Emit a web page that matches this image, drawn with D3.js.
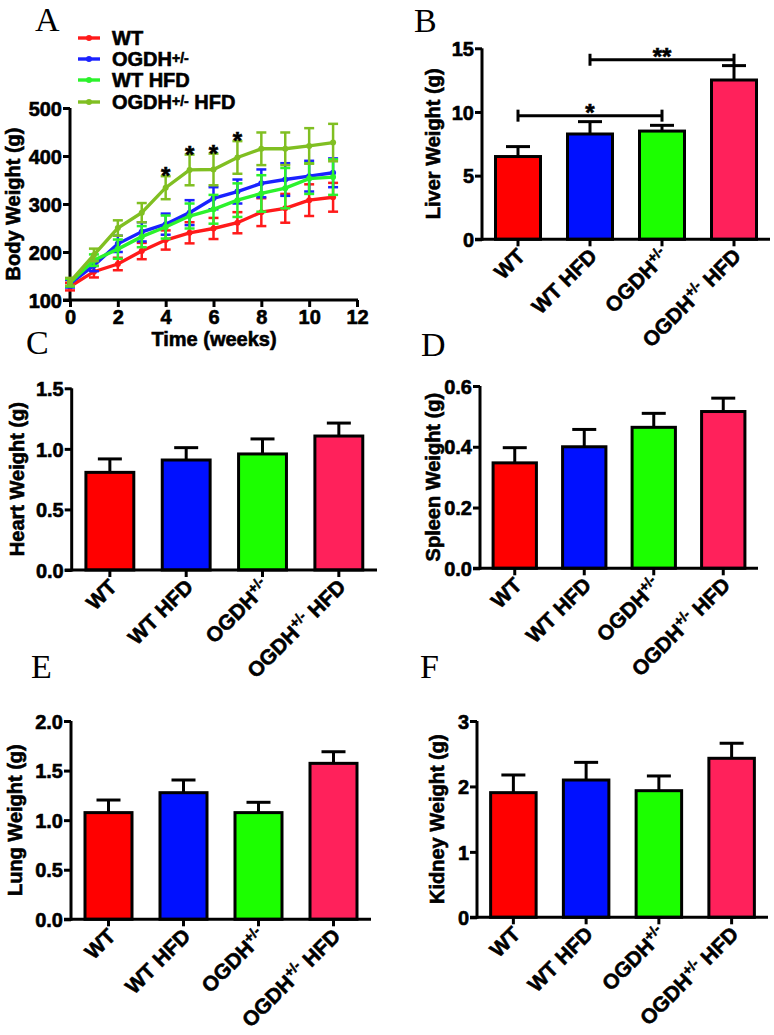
<!DOCTYPE html>
<html><head><meta charset="utf-8">
<script src="https://cdn.jsdelivr.net/npm/d3@7"></script>
<style>
html,body{margin:0;padding:0;background:#fff;}
svg{display:block;}
text{font-family:"Liberation Sans",Arial,sans-serif;font-weight:bold;fill:#000;stroke:#000;stroke-width:0.6px;}
.letter{font-family:"Liberation Serif","Times New Roman",serif;font-weight:normal;font-size:34px;stroke:none;}
</style></head>
<body>
<script>
// ---------- Data ----------
const weeks = [0,1,2,3,4,5,6,7,8,9,10,11];
const lineGroups = ["WT","OGDH+/-","WT HFD","OGDH+/- HFD"];
const bwWT       = [128,159,175,202,225,240,249,261,283,291,308,314];
const bwWTerr    = [8,12,13,17,20,22,22,22,29,30,33,30];
const bwOGDH     = [134,172,217,242,258,282,312,326,343,351,358,365];
const bwOGDHerr  = [8,12,17,20,22,26,23,25,29,34,32,30];
const bwWTHFD    = [136,183,206,232,252,275,289,308,322,333,353,356];
const bwWTHFDerr = [8,12,20,22,24,26,30,35,38,42,32,37];
const bwOHFD     = [138,194,250,282,334,371,372,397,415,415,421,428];
const bwOHFDerr  = [8,13,16,20,24,32,33,34,34,34,37,39];
const starWeeks  = [4,5,6,7];
const bwTicksY = [100,200,300,400,500];
const bwTicksX = [0,2,4,6,8,10,12];

const barCats = ["WT","WT HFD","OGDH+/-","OGDH+/- HFD"];
const liver     = [6.5,8.27,8.5,12.51];
const liverErr  = [0.78,0.97,0.45,1.13];
const liverSig  = [{from:"WT",to:"OGDH+/-",level:9.71,label:"*"},{from:"WT HFD",to:"OGDH+/- HFD",level:14.1,label:"**"}];
const heart     = [0.806,0.908,0.958,1.106];
const heartErr  = [0.111,0.102,0.124,0.107];
const spleen    = [0.347,0.400,0.464,0.516];
const spleenErr = [0.050,0.057,0.046,0.044];
const lung      = [1.076,1.277,1.076,1.573];
const lungErr   = [0.127,0.128,0.104,0.117];
const kidney    = [1.905,2.098,1.935,2.43];
const kidneyErr = [0.27,0.27,0.225,0.23];
const liverTicks  = [0,5,10,15];
const heartTicks  = [0,0.5,1.0,1.5];
const spleenTicks = [0,0.2,0.4,0.6];
const lungTicks   = [0,0.5,1.0,1.5,2.0];
const kidneyTicks = [0,1,2,3];

// ---------- Styles ----------
const lineColors = ["#ff1a1a","#1a22ff","#2cf22c","#80bf22"];
const barColors  = ["#ff0000","#0010ff","#1cff00","#ff215b"];
const FS = 20, FSX = 21, FSL = 20;

const svg = d3.select("body").append("svg").attr("width",774).attr("height",1035);
svg.append("rect").attr("width",774).attr("height",1035).attr("fill","#fff");

function richText(sel, label, size, shift){
  const parts = label.split("+/-");
  sel.append("tspan").text(parts[0]);
  if(parts.length>1){
    sel.append("tspan").attr("baseline-shift",shift || "super").attr("font-size",Math.round(size*0.68)+"px").text("+/-");
    if(parts[1]) sel.append("tspan").text(parts[1]);
  }
}
function styleTicks(ax){
  ax.select(".domain").remove();
  ax.selectAll(".tick line").attr("stroke","#000").attr("stroke-width",3);
  ax.selectAll(".tick text").attr("font-size",FS+"px").attr("font-family","Liberation Sans, Arial, sans-serif").attr("font-weight","bold").attr("stroke","#000").attr("stroke-width",0.6);
}

function drawAxes(g, x0, x1, y, ticksY, fmt, yLabel, yLabelX){
  const yAxis = g.append("g").attr("transform",`translate(${x0},0)`)
    .call(d3.axisLeft(y).tickValues(ticksY).tickFormat(fmt).tickSize(7).tickPadding(1));
  styleTicks(yAxis);
  yAxis.selectAll(".tick text").attr("dy","0.36em");
  const [yb, yt] = y.range();
  g.append("line").attr("x1",x0).attr("x2",x0).attr("y1",yb+1.5).attr("y2",yt).attr("stroke","#000").attr("stroke-width",3);
  g.append("line").attr("x1",x0-7).attr("x2",x1).attr("y1",yb).attr("y2",yb).attr("stroke","#000").attr("stroke-width",3);
  g.append("text").attr("transform",`translate(${yLabelX},${(yb+yt)/2}) rotate(-90)`)
    .attr("text-anchor","middle").attr("dominant-baseline","central").attr("font-size",FS+"px").text(yLabel);
}

// ---------- Panel A ----------
(function(){
  const x = d3.scaleLinear().domain([0,12]).range([70,357]);
  const y = d3.scaleLinear().domain([100,500]).range([300,108]);
  const g = svg.append("g");
  const ya = g.append("g").attr("transform","translate(70,0)")
    .call(d3.axisLeft(y).tickValues(bwTicksY).tickSize(7).tickPadding(1));
  styleTicks(ya);
  ya.selectAll(".tick text").attr("dy","0.36em");
  const xa = g.append("g").attr("transform","translate(0,300)")
    .call(d3.axisBottom(x).tickValues(bwTicksX).tickSize(7).tickPadding(3));
  styleTicks(xa);
  xa.selectAll(".tick text").attr("dy","0.72em");
  g.append("line").attr("x1",70).attr("x2",70).attr("y1",301.5).attr("y2",108).attr("stroke","#000").attr("stroke-width",3);
  g.append("line").attr("x1",63).attr("x2",358).attr("y1",300).attr("y2",300).attr("stroke","#000").attr("stroke-width",3);
  g.append("text").attr("transform",`translate(13,${(300+108)/2}) rotate(-90)`)
    .attr("text-anchor","middle").attr("dominant-baseline","central").attr("font-size",FS+"px").text("Body Weight (g)");
  g.append("text").attr("x",214).attr("y",346).attr("text-anchor","middle").attr("font-size",FS+"px").text("Time (weeks)");

  const series = [
    {name:lineGroups[0], v:bwWT, e:bwWTerr, c:lineColors[0]},
    {name:lineGroups[1], v:bwOGDH, e:bwOGDHerr, c:lineColors[1]},
    {name:lineGroups[2], v:bwWTHFD, e:bwWTHFDerr, c:lineColors[2]},
    {name:lineGroups[3], v:bwOHFD, e:bwOHFDerr, c:lineColors[3]}
  ];
  const line = d3.line().x((d,i)=>x(weeks[i])).y(d=>y(d));
  series.forEach(s=>{
    const sg = g.append("g");
    weeks.forEach((w,i)=>{
      const cx = x(w), yu = y(s.v[i]+s.e[i]), yl = y(s.v[i]-s.e[i]);
      sg.append("line").attr("x1",cx).attr("x2",cx).attr("y1",yu).attr("y2",yl).attr("stroke",s.c).attr("stroke-width",2.5);
      [yu,yl].forEach(yy=>sg.append("line").attr("x1",cx-5).attr("x2",cx+5).attr("y1",yy).attr("y2",yy).attr("stroke",s.c).attr("stroke-width",2.5));
    });
    sg.append("path").attr("d",line(s.v)).attr("fill","none").attr("stroke",s.c).attr("stroke-width",3.4);
    weeks.forEach((w,i)=>sg.append("circle").attr("cx",x(w)).attr("cy",y(s.v[i])).attr("r",3).attr("fill",s.c));
  });
  starWeeks.forEach(w=>{
    const i = weeks.indexOf(w);
    g.append("text").attr("x",x(w)).attr("y",y(bwOHFD[i]+bwOHFDerr[i])+8).attr("text-anchor","middle").attr("font-size","24px").text("*");
  });
  const lg = g.append("g");
  const legY = [45,66,87,109];
  lineGroups.forEach((name,i)=>{
    const cy = legY[i]-7;
    lg.append("line").attr("x1",78).attr("x2",100).attr("y1",cy).attr("y2",cy).attr("stroke",lineColors[i]).attr("stroke-width",3.4);
    lg.append("circle").attr("cx",89).attr("cy",cy).attr("r",3).attr("fill",lineColors[i]);
    const t = lg.append("text").attr("x",112).attr("y",legY[i]).attr("font-size",FSL+"px");
    richText(t,name,FSL,"25%");
  });
})();

// ---------- Bar panels ----------
function barPanel(o){
  const x = d3.scaleBand().domain(barCats).range([o.x0,o.x1]).paddingInner(1/3).paddingOuter(1/6);
  const y = d3.scaleLinear().domain([0,o.max]).range([o.yb,o.yt]);
  const g = svg.append("g");
  barCats.forEach((c,i)=>{
    const cx = x(c)+x.bandwidth()/2;
    const yu = y(o.vals[i]+o.errs[i]);
    g.append("line").attr("x1",cx).attr("x2",cx).attr("y1",y(o.vals[i])).attr("y2",yu).attr("stroke","#000").attr("stroke-width",3);
    g.append("line").attr("x1",cx-12).attr("x2",cx+12).attr("y1",yu).attr("y2",yu).attr("stroke","#000").attr("stroke-width",3);
  });
  g.selectAll("rect.bar").data(o.vals).enter().append("rect")
    .attr("x",(d,i)=>x(barCats[i])+1.5).attr("width",x.bandwidth()-3)
    .attr("y",d=>y(d)).attr("height",d=>o.yb-y(d))
    .attr("fill",(d,i)=>barColors[i]).attr("stroke","#000").attr("stroke-width",3);
  drawAxes(g,o.x0,o.x1,y,o.ticks,o.fmt,o.label,o.labelX);
  barCats.forEach((c,i)=>{
    const cx = x(c)+x.bandwidth()/2;
    g.append("line").attr("x1",cx).attr("x2",cx).attr("y1",o.yb).attr("y2",o.yb+7).attr("stroke","#000").attr("stroke-width",3);
    const t = g.append("text").attr("transform",`translate(${cx+3},${o.yb+13}) rotate(-45)`)
      .attr("text-anchor","end").attr("dy","0.35em").attr("font-size",FSX+"px");
    richText(t,c,FSX);
  });
  if(o.sig){
    o.sig.forEach(s=>{
      const xa = x(s.from)+x.bandwidth()/2, xb = x(s.to)+x.bandwidth()/2, yy = y(s.level);
      g.append("line").attr("x1",xa).attr("x2",xb).attr("y1",yy).attr("y2",yy).attr("stroke","#000").attr("stroke-width",3);
      [xa,xb].forEach(xx=>g.append("line").attr("x1",xx).attr("x2",xx).attr("y1",yy-6).attr("y2",yy+6).attr("stroke","#000").attr("stroke-width",3));
      g.append("text").attr("x",(xa+xb)/2).attr("y",yy+5).attr("text-anchor","middle").attr("font-size","24px").text(s.label);
    });
  }
  g.append("text").attr("class","letter").attr("x",o.lx).attr("y",o.ly).text(o.letter);
}
const f0 = d3.format("d"), f1 = d3.format(".1f");
barPanel({x0:482,x1:770,yb:239.3,yt:48.3,max:15,vals:liver,errs:liverErr,ticks:liverTicks,fmt:f0,label:"Liver Weight (g)",labelX:433,sig:liverSig,letter:"B",lx:414,ly:32});
barPanel({x0:71.7,x1:377,yb:570,yt:388.3,max:1.5,vals:heart,errs:heartErr,ticks:heartTicks,fmt:f1,label:"Heart Weight (g)",labelX:17,letter:"C",lx:26,ly:354});
barPanel({x0:480,x1:758,yb:568.3,yt:386,max:0.6,vals:spleen,errs:spleenErr,ticks:spleenTicks,fmt:f1,label:"Spleen Weight (g)",labelX:433,letter:"D",lx:421,ly:356});
barPanel({x0:71,x1:371,yb:919.3,yt:721,max:2.0,vals:lung,errs:lungErr,ticks:lungTicks,fmt:f1,label:"Lung Weight (g)",labelX:15,letter:"E",lx:31,ly:678});
barPanel({x0:477,x1:768,yb:917.3,yt:721,max:3,vals:kidney,errs:kidneyErr,ticks:kidneyTicks,fmt:f0,label:"Kidney Weight (g)",labelX:437,letter:"F",lx:420,ly:678});
svg.append("text").attr("class","letter").attr("x",35).attr("y",31).text("A");
</script>
</body></html>
